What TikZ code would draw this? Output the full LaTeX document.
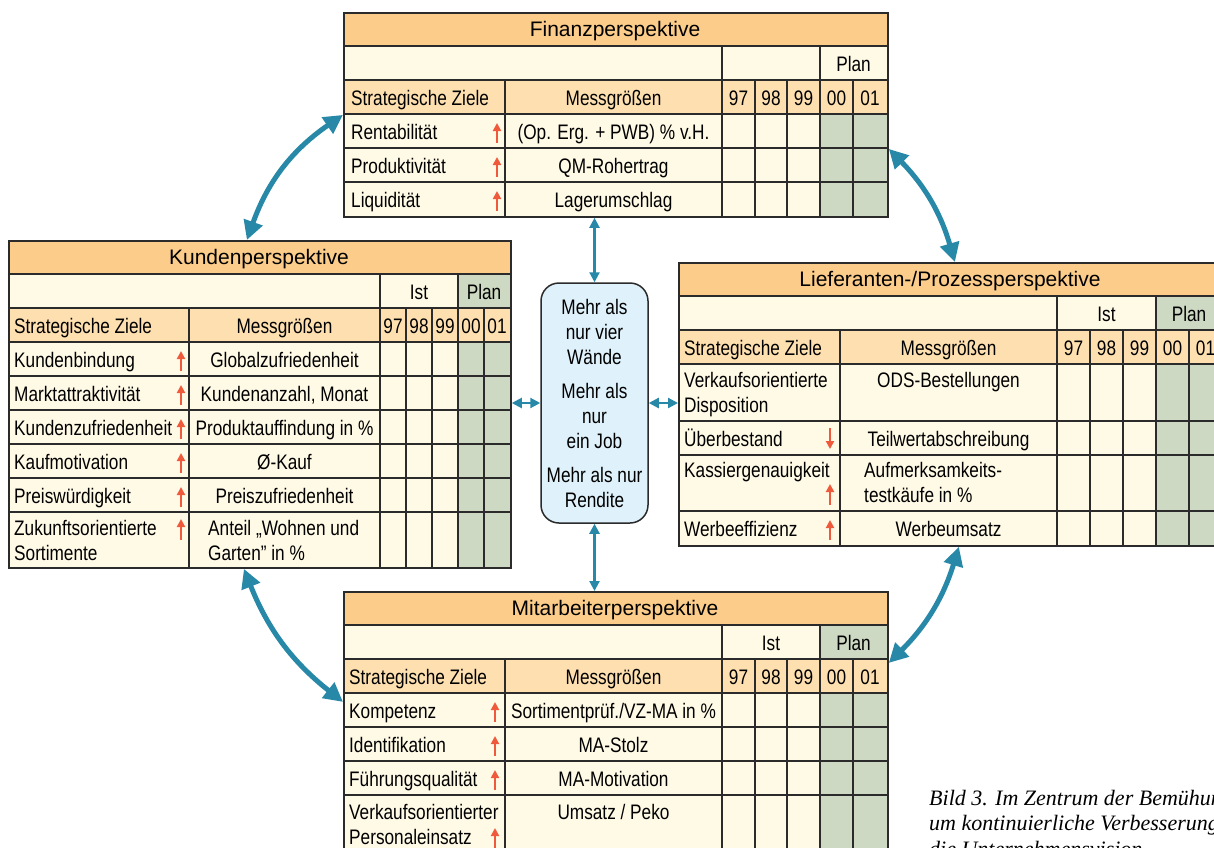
\documentclass[tikz,border=0pt]{standalone}
\usepackage{fontspec}
\setmainfont[FakeStretch=0.82]{Liberation Sans}
\newfontfamily\titelschrift{Liberation Sans}
\newfontfamily\bildschrift{Liberation Serif}
\usetikzlibrary{arrows.meta}

\definecolor{titelorange}{HTML}{FBCC8A}
\definecolor{kopforange}{HTML}{FEE0B0}
\definecolor{creme}{HTML}{FFFAE6}
\definecolor{plangruen}{HTML}{CDD9C2}
\definecolor{rahmen}{HTML}{2B2B2B}
\definecolor{mitteblau}{HTML}{DFF2FB}
\definecolor{pfeilblau}{HTML}{2888A8}
\definecolor{zielrot}{HTML}{F05A3C}

\begin{document}
\begin{tikzpicture}[x=1pt,y=-1pt]
    \tikzset{
        zelle/.style={inner sep=0pt,font=\fontsize{21}{25}\selectfont},
        zielzelle/.style={zelle,anchor=base west,align=left},
        messzelle/.style={zelle,anchor=base,align=center},
        titel/.style={inner sep=0pt,anchor=base,font=\titelschrift\fontsize{21}{25}\selectfont},
        gitter/.style={draw=rahmen,line width=1.5pt},
        rahmenbox/.style={draw=rahmen,line width=1.8pt,inner sep=0pt,anchor=north west},
        auf/.style={-{Triangle[width=8pt,length=8pt]},draw=zielrot,line width=2pt},
        verbinder/.style={{Triangle[width=10pt,length=10pt]}-{Triangle[width=10pt,length=10pt]},draw=pfeilblau,line width=2.2pt},
        bogen/.style={{Triangle[width=19pt,length=19pt]}-{Triangle[width=19pt,length=19pt]},draw=pfeilblau,line width=5pt}
    }
    \useasboundingbox (0,0) rectangle (1214,847);
    \clip (0,0) rectangle (1214,847);
    \fill[white] (0,0) rectangle (1214,847);

    % Finanzperspektive
    \begin{scope}[shift={(343,12)}]
        \fill[titelorange] (0,0) rectangle (544,34);
        \fill[creme] (0,34) rectangle (544,68);
        \fill[kopforange] (0,68) rectangle (544,102);
        \fill[creme] (0,102) rectangle (544,204);
        \fill[plangruen] (477,102) rectangle (544,204);
        \foreach \y in {34,68,102,136,170} \draw[gitter] (0,\y) -- (544,\y);
        \foreach \x in {379,477} \draw[gitter] (\x,34) -- (\x,204);
        \foreach \x in {162,412,444,510} \draw[gitter] (\x,68) -- (\x,204);

        \node[titel] (ftitel) at (272,24) {Finanzperspektive};
        \node[messzelle] (fplan) at (510.5,59) {Plan};
        \node[zielzelle] (fziele) at (8,93) {Strategische Ziele};
        \node[messzelle] (fmess) at (270.5,93) {Messgrößen};
        \foreach \x/\j in {395.5/97,428/98,460.5/99,493.5/00,527/01}
            \node[messzelle] (fj\j) at (\x,93) {\j};
        \foreach \y/\ziel/\mess in {102/Rentabilität/{(Op. Erg. + PWB) \% v.H.},136/Produktivität/QM-Rohertrag,170/Liquidität/Lagerumschlag}{
            \node[zielzelle] (fz\y) at (8,\y+25) {\ziel};
            \node[messzelle] (fm\y) at (270.5,\y+25) {\mess};
            \draw[auf] (154,\y+29) -- (154,\y+9);
        }
    \end{scope}
    \node[rahmenbox,minimum width=544pt,minimum height=204pt] (finanz) at (343,12) {};

    % Kundenperspektive
    \begin{scope}[shift={(8,240)}]
        \fill[titelorange] (0,0) rectangle (502,34);
        \fill[creme] (0,34) rectangle (502,68);
        \fill[plangruen] (450,34) rectangle (502,68);
        \fill[kopforange] (0,68) rectangle (502,102);
        \fill[creme] (0,102) rectangle (502,327);
        \fill[plangruen] (450,102) rectangle (502,327);
        \foreach \y in {34,68,102,136,170,204,238,272} \draw[gitter] (0,\y) -- (502,\y);
        \foreach \x in {372,450} \draw[gitter] (\x,34) -- (\x,327);
        \foreach \x in {181,398,424,476} \draw[gitter] (\x,68) -- (\x,327);

        \node[titel] (ktitel) at (251,24) {Kundenperspektive};
        \node[messzelle] (kist) at (411,59) {Ist};
        \node[messzelle] (kplan) at (476,59) {Plan};
        \node[zielzelle] (kziele) at (6,93) {Strategische Ziele};
        \node[messzelle] (kmess) at (276.5,93) {Messgrößen};
        \foreach \x/\j in {385/97,411/98,437/99,463/00,489/01}
            \node[messzelle] (kj\j) at (\x,93) {\j};
        \foreach \y/\ziel/\mess in {102/Kundenbindung/Globalzufriedenheit,136/Marktattraktivität/{Kundenanzahl, Monat},170/Kundenzufriedenheit/Produktauffindung in \%,204/Kaufmotivation/Ø-Kauf,238/Preiswürdigkeit/Preiszufriedenheit}{
            \node[zielzelle] (kz\y) at (6,\y+25) {\ziel};
            \node[messzelle] (km\y) at (276.5,\y+25) {\mess};
            \draw[auf] (173,\y+29) -- (173,\y+9);
        }
        % zweizeilig: base liegt auf der letzten Zeile
        \node[zielzelle] (kz272) at (6,320) {Zukunftsorientierte\\Sortimente};
        \node[zielzelle] (km272) at (200,320) {Anteil „Wohnen und\\Garten” in \%};
        \draw[auf] (173,300) -- (173,279);
    \end{scope}
    \node[rahmenbox,minimum width=502pt,minimum height=327pt] (kunden) at (8,240) {};

    % Lieferanten-/Prozessperspektive
    \begin{scope}[shift={(678,262)}]
        \fill[titelorange] (0,0) rectangle (544,34);
        \fill[creme] (0,34) rectangle (544,68);
        \fill[plangruen] (478,34) rectangle (544,68);
        \fill[kopforange] (0,68) rectangle (544,102);
        \fill[creme] (0,102) rectangle (544,283);
        \fill[plangruen] (478,102) rectangle (544,283);
        \foreach \y in {34,68,102,159,193,249} \draw[gitter] (0,\y) -- (544,\y);
        \foreach \x in {379,478} \draw[gitter] (\x,34) -- (\x,283);
        \foreach \x in {162,412,445,511} \draw[gitter] (\x,68) -- (\x,283);

        \node[titel] (ltitel) at (272,24) {Lieferanten-/Prozessperspektive};
        \node[messzelle] (list) at (428.5,59) {Ist};
        \node[messzelle] (lplan) at (511,59) {Plan};
        \node[zielzelle] (lziele) at (6,93) {Strategische Ziele};
        \node[messzelle] (lmess) at (270.5,93) {Messgrößen};
        \foreach \x/\j in {395.5/97,428.5/98,461.5/99,494.5/00,527.5/01}
            \node[messzelle] (lj\j) at (\x,93) {\j};
        \node[zielzelle] (lz102) at (6,150) {Verkaufsorientierte\\Disposition};
        \node[messzelle] (lm102) at (270.5,125) {ODS-Bestellungen};
        \node[zielzelle] (lz159) at (6,184) {Überbestand};
        \node[messzelle] (lm159) at (270.5,184) {Teilwertabschreibung};
        \draw[auf] (152,166) -- (152,187);
        \node[zielzelle] (lz193) at (6,215) {Kassiergenauigkeit};
        \node[zielzelle] (lm193) at (186,240) {Aufmerksamkeits-\\testkäufe in \%};
        \draw[auf] (152,243) -- (152,222);
        \node[zielzelle] (lz249) at (6,274) {Werbeeffizienz};
        \node[messzelle] (lm249) at (270.5,274) {Werbeumsatz};
        \draw[auf] (152,278) -- (152,258);
    \end{scope}
    \node[rahmenbox,minimum width=544pt,minimum height=283pt] (liefer) at (678,262) {};

    % Mitarbeiterperspektive
    \begin{scope}[shift={(343,591)}]
        \fill[titelorange] (0,0) rectangle (544,34);
        \fill[creme] (0,34) rectangle (544,68);
        \fill[plangruen] (477,34) rectangle (544,68);
        \fill[kopforange] (0,68) rectangle (544,102);
        \fill[creme] (0,102) rectangle (544,262);
        \fill[plangruen] (477,102) rectangle (544,262);
        \foreach \y in {34,68,102,136,170,204} \draw[gitter] (0,\y) -- (544,\y);
        \foreach \x in {379,477} \draw[gitter] (\x,34) -- (\x,262);
        \foreach \x in {162,412,444,510} \draw[gitter] (\x,68) -- (\x,262);

        \node[titel] (mtitel) at (272,24) {Mitarbeiterperspektive};
        \node[messzelle] (mist) at (428,59) {Ist};
        \node[messzelle] (mplan) at (510.5,59) {Plan};
        \node[zielzelle] (mziele) at (6,93) {Strategische Ziele};
        \node[messzelle] (mmess) at (270.5,93) {Messgrößen};
        \foreach \x/\j in {395.5/97,428/98,460.5/99,493.5/00,527/01}
            \node[messzelle] (mj\j) at (\x,93) {\j};
        \foreach \y/\ziel/\mess in {102/Kompetenz/{Sortimentprüf./VZ-MA in \%},136/Identifikation/MA-Stolz,170/Führungsqualität/MA-Motivation}{
            \node[zielzelle] (mz\y) at (6,\y+25) {\ziel};
            \node[messzelle] (mm\y) at (270.5,\y+25) {\mess};
            \draw[auf] (152,\y+29) -- (152,\y+9);
        }
        \node[zielzelle] (mz204) at (6,253) {Verkaufsorientierter\\Personaleinsatz};
        \node[messzelle] (mm204) at (270.5,228) {Umsatz / Peko};
        \draw[auf] (152,257) -- (152,237);
    \end{scope}
    \node[rahmenbox,minimum width=544pt,minimum height=262pt] (mitarb) at (343,591) {};

    % Mitte
    \node[zelle,draw=rahmen,line width=1.5pt,fill=mitteblau,rounded corners=18pt,
          minimum width=107pt,minimum height=240pt,align=center] (mitte) at (594.5,403)
        {Mehr als\\nur vier\\Wände\\[9pt]Mehr als\\nur\\ein Job\\[9pt]Mehr als nur\\Rendite};

    \draw[verbinder] (finanz.south -| mitte.north) -- (mitte.north);
    \draw[verbinder] (mitte.south) -- (mitte.south |- mitarb.north);
    \draw[verbinder] (kunden.east |- mitte.west) -- (mitte.west);
    \draw[verbinder] (mitte.east) -- (mitte.east -| liefer.west);

    \draw[bogen] ([xshift=-13pt]kunden.north) to[bend left=18] (finanz.west);
    \draw[bogen] ([yshift=-34pt]finanz.east) to[bend left=14] ([xshift=4pt]liefer.north);
    \draw[bogen] ([xshift=-16pt]kunden.south) to[bend right=15] ([yshift=21pt]mitarb.west);
    \draw[bogen] ([xshift=8pt]liefer.south) to[bend left=14] ([yshift=60pt]mitarb.east);

    \node[anchor=base west,align=left,inner sep=0pt,font=\bildschrift\itshape\fontsize{22}{25.5}\selectfont] (bild) at (929,856)
        {Bild 3. Im Zentrum der Bemühungen\\um kontinuierliche Verbesserung\\die Unternehmensvision};
\end{tikzpicture}
\end{document}
